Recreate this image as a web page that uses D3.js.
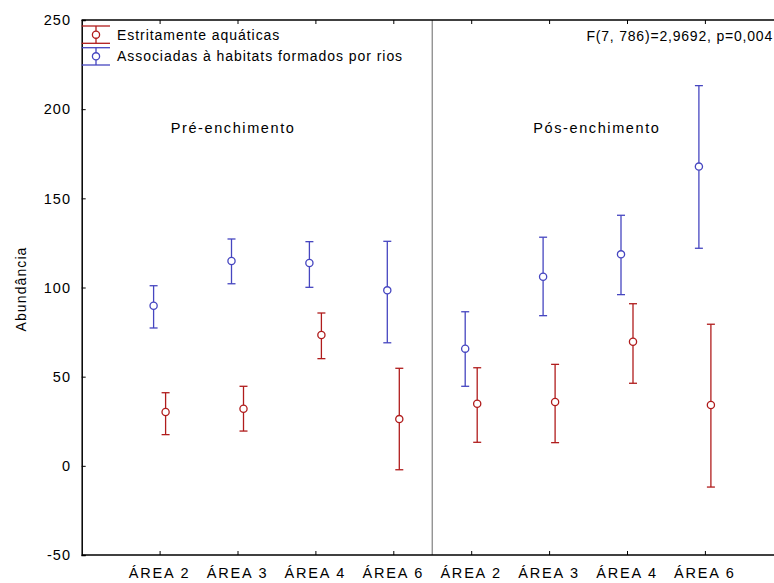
<!DOCTYPE html>
<html><head><meta charset="utf-8">
<script src="https://cdn.jsdelivr.net/npm/d3@7"></script>
<style>
body{margin:0;background:#fff;}
text{font-family:"Liberation Sans",Arial,sans-serif;fill:#000;}
</style></head>
<body><svg id="c" width="774" height="583"></svg>
<script>
const categories = ["ÁREA 2","ÁREA 3","ÁREA 4","ÁREA 6","ÁREA 2","ÁREA 3","ÁREA 4","ÁREA 6"];
const yTicks = [-50,0,50,100,150,200,250];
// Estritamente aquáticas
const aquaMean  = [30.2, 32.0, 73.4, 26.2, 34.8, 35.8, 69.6, 34.1];
const aquaUpper = [41.0, 44.6, 85.7, 54.7, 55.0, 56.9, 90.9, 79.4];
const aquaLower = [17.5, 19.5, 60.1, -2.2, 13.2, 13.0, 46.3, -11.9];
// Associadas à habitats formados por rios
const rioMean  = [89.8, 114.9, 113.7, 98.4, 65.7, 106.0, 118.6, 167.8];
const rioUpper = [101.0, 127.2, 125.7, 125.9, 86.4, 128.2, 140.5, 213.2];
const rioLower = [77.3, 102.1, 100.1, 69.0, 44.6, 84.2, 96.0, 122.0];
const seriesNames = ["Estritamente aquáticas","Associadas à habitats formados por rios"];
const statText = "F(7, 786)=2,9692, p=0,004";
const phaseLabels = ["Pré-enchimento","Pós-enchimento"];

(function(){
const svg = d3.select("#c");
const L = 81.7, T = 20, B = 555;
const x = d3.scaleLinear().domain([0, 9]).range([L, L + 9*77.9]);
const y = d3.scaleLinear().domain([-50, 250]).range([B, T]);
const RED = "#b01c1c", BLUE = "#4646c0";

// separator
svg.append("line").attr("x1", x(4.5)).attr("x2", x(4.5)).attr("y1", T).attr("y2", B)
  .attr("stroke", "#8a8a8a").attr("stroke-width", 1.3);

// axes
const pos = d3.range(1, 9);
const gLeft = svg.append("g").attr("transform", `translate(${L},0)`)
  .call(d3.axisRight(y).tickValues(yTicks).tickSize(4).tickFormat(""));
const gBottom = svg.append("g").attr("transform", `translate(0,${B})`)
  .call(d3.axisTop(x).tickValues(pos).tickSize(4).tickFormat(""));
const gTop = svg.append("g").attr("transform", `translate(0,${T})`)
  .call(d3.axisBottom(x).tickValues(pos).tickSize(4).tickFormat(""));
[gLeft, gBottom, gTop].forEach(g => {
  g.select(".domain").attr("stroke", "#000").attr("stroke-width", 1.5);
  g.selectAll(".tick line").attr("stroke", "#000").attr("stroke-width", 1);
});
gBottom.select(".domain").attr("d", `M${L},0H774`);
gTop.select(".domain").attr("d", `M${L},0H774`);

// y tick labels
svg.append("g").selectAll("text").data(yTicks).join("text")
  .attr("x", 71).attr("y", d => y(d)).attr("dy", "0.36em")
  .attr("text-anchor", "end").attr("font-size", 14.5).attr("letter-spacing", 1)
  .text(d => d);
// x labels
svg.append("g").selectAll("text").data(categories).join("text")
  .attr("x", (d, i) => x(i + 1)).attr("y", 578)
  .attr("text-anchor", "middle").attr("font-size", 14.5).attr("letter-spacing", 1.8)
  .text(d => d);
// y title
svg.append("text").attr("transform", "translate(26,289) rotate(-90)")
  .attr("text-anchor", "middle").attr("font-size", 14).attr("letter-spacing", 1.1)
  .text("Abundância");

// error bars
const off = 6 / 77.9;
function drawSeries(mean, upper, lower, color, dx) {
  const g = svg.append("g");
  const d = mean.map((m, i) => ({ i, m, u: upper[i], l: lower[i] }));
  g.selectAll("line.v").data(d).join("line").attr("class", "v")
    .attr("x1", e => x(e.i + 1 + dx)).attr("x2", e => x(e.i + 1 + dx))
    .attr("y1", e => y(e.u)).attr("y2", e => y(e.l))
    .attr("stroke", color).attr("stroke-width", 1.3);
  ["u", "l"].forEach(k => {
    g.selectAll("line.c" + k).data(d).join("line").attr("class", "c" + k)
      .attr("x1", e => x(e.i + 1 + dx) - 4).attr("x2", e => x(e.i + 1 + dx) + 4)
      .attr("y1", e => y(e[k])).attr("y2", e => y(e[k]))
      .attr("stroke", color).attr("stroke-width", 1.3);
  });
  g.selectAll("circle").data(d).join("circle")
    .attr("cx", e => x(e.i + 1 + dx)).attr("cy", e => y(e.m)).attr("r", 3.6)
    .attr("fill", "#fff").attr("stroke", color).attr("stroke-width", 1.3);
}
drawSeries(rioMean, rioUpper, rioLower, BLUE, -off);
drawSeries(aquaMean, aquaUpper, aquaLower, RED, off);

// legend
const leg = [{ c: RED, t: seriesNames[0], y0: 26, y1: 43.3 }, { c: BLUE, t: seriesNames[1], y0: 47.7, y1: 65 }];
leg.forEach(l => {
  const g = svg.append("g");
  [l.y0, l.y1].forEach(yy => g.append("line").attr("x1", L).attr("x2", 110).attr("y1", yy).attr("y2", yy)
    .attr("stroke", l.c).attr("stroke-width", 1.3));
  g.append("line").attr("x1", 96).attr("x2", 96).attr("y1", l.y0).attr("y2", l.y1)
    .attr("stroke", l.c).attr("stroke-width", 1.3);
  g.append("circle").attr("cx", 96).attr("cy", (l.y0 + l.y1) / 2).attr("r", 3.6)
    .attr("fill", "#fff").attr("stroke", l.c).attr("stroke-width", 1.3);
  g.append("text").attr("x", 117).attr("y", (l.y0 + l.y1) / 2 + 5)
    .attr("font-size", 14).attr("letter-spacing", 0.95).text(l.t);
});

svg.append("text").attr("x", 773).attr("y", 40.7).attr("text-anchor", "end")
  .attr("font-size", 14).attr("letter-spacing", 0.8).text(statText);
svg.append("text").attr("x", 170.7).attr("y", 133.3).attr("font-size", 14.5).attr("letter-spacing", 1.6).text(phaseLabels[0]);
svg.append("text").attr("x", 533.3).attr("y", 133.3).attr("font-size", 14.5).attr("letter-spacing", 1.6).text(phaseLabels[1]);
})();
</script></body></html>
